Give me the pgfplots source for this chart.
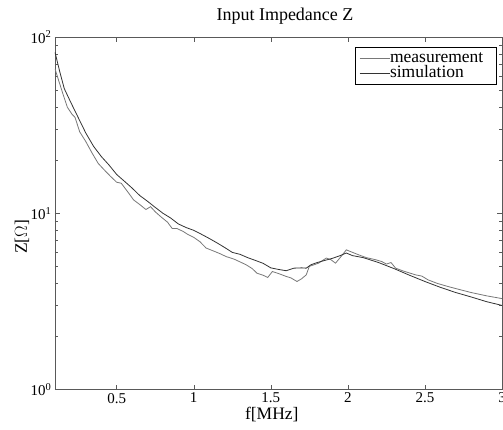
\documentclass[border=0pt]{standalone}
\usepackage{fontspec}
\setmainfont{Liberation Serif}
\usepackage{pgfplots}
\pgfplotsset{compat=1.18}
\definecolor{meas}{gray}{0.47}
\definecolor{simu}{gray}{0.2}
\begin{document}
\begin{tikzpicture}
\useasboundingbox (-55pt,-39.5pt) rectangle (448pt,389.5pt);
\begin{axis}[
  at={(0pt,0pt)}, anchor=south west,
  scale only axis, width=447pt, height=352.5pt,
  ymode=log, xmin=0.1, xmax=3, ymin=1, ymax=100,
  xtick={0.5,1,1.5,2,2.5,3},
  xticklabels={0.5,1,1.5,2,2.5,3},
  ytick={1,10,100},
  yticklabels={10\textsuperscript{0},10\textsuperscript{1},10\textsuperscript{2}},
  tick label style={font=\fontsize{15}{16}\selectfont, black},
  axis line style={black!65},
  every tick/.style={black!65},
  major tick length=5pt, minor tick length=3pt,
  title={Input Impedance Z},
  title style={font=\fontsize{18}{20}\selectfont, at={(axis description cs:0.5145,1.031)}, anchor=base},
  xlabel={f[MHz]},
  xlabel style={font=\fontsize{17.5}{19}\selectfont, at={(axis description cs:0.485,-0.072)}, anchor=center},
  ylabel={Z[$\Omega$]},
  ylabel style={font=\fontsize{17.5}{19}\selectfont, at={(axis description cs:-0.074,0.433)}, anchor=center},
  legend cell align=left,
  legend style={at={(axis description cs:0.988,0.971)}, anchor=north east,
    draw=black, line width=0.6pt, font=\fontsize{17.5}{17.5}\selectfont,
    nodes={inner sep=0pt, text height=11.5pt, text depth=3.5pt},
    inner xsep=4pt, inner ysep=3.5pt, row sep=0pt, column sep=0pt},
  legend image code/.code={\draw[#1] (0pt,0pt) -- (30pt,0pt);},
]
\addplot[meas, line width=0.8pt] coordinates {
(0.10,66) (0.12,58) (0.15,48) (0.18,40) (0.21,36.5) (0.23,35) (0.26,29)
(0.30,25.5) (0.34,22) (0.38,19.2) (0.42,17.6) (0.46,16.2) (0.50,15.0)
(0.53,14.8) (0.57,13.3) (0.61,11.9) (0.65,11.2) (0.69,10.5) (0.72,10.9)
(0.75,10.2) (0.79,9.5) (0.83,8.9) (0.86,8.2) (0.89,8.2) (0.93,7.9)
(0.96,7.6) (1.00,7.3) (1.04,6.9) (1.08,6.35) (1.13,6.1) (1.17,5.9)
(1.21,5.68) (1.26,5.5) (1.30,5.3) (1.34,5.1) (1.38,4.85) (1.41,4.57)
(1.45,4.45) (1.48,4.32) (1.51,4.67) (1.55,4.55) (1.60,4.38) (1.63,4.3)
(1.67,4.10) (1.70,4.25) (1.73,4.47) (1.75,5.0) (1.78,5.1) (1.81,5.21)
(1.86,5.57) (1.89,5.45) (1.92,5.21) (1.95,5.6) (1.99,6.2) (2.03,6.0)
(2.07,5.81) (2.12,5.6) (2.18,5.45) (2.22,5.32) (2.25,5.15) (2.28,5.25)
(2.31,4.88) (2.36,4.7) (2.44,4.47) (2.48,4.4) (2.52,4.19) (2.58,4.0)
(2.65,3.84) (2.72,3.7) (2.80,3.55) (2.90,3.4) (3.00,3.28)
};
\addlegendentry{measurement\hspace*{9pt}}
\addplot[simu, line width=0.8pt] coordinates {
(0.10,82) (0.13,64) (0.16,51) (0.20,43) (0.25,35) (0.30,28.5) (0.35,24)
(0.40,21) (0.45,18.8) (0.50,16.6) (0.55,15.2) (0.60,13.9) (0.65,12.6)
(0.70,11.7) (0.75,10.8) (0.80,10.0) (0.85,9.4) (0.90,8.7) (0.95,8.3)
(1.00,8.0) (1.05,7.6) (1.10,7.2) (1.15,6.8) (1.20,6.4) (1.25,6.0)
(1.30,5.85) (1.35,5.6) (1.40,5.4) (1.45,5.2) (1.50,4.9) (1.55,4.8)
(1.60,4.72) (1.65,4.88) (1.70,4.9) (1.73,4.88) (1.76,5.1) (1.80,5.25)
(1.85,5.4) (1.90,5.55) (1.95,5.75) (1.99,5.95) (2.03,5.75) (2.10,5.6)
(2.20,5.25) (2.30,4.85) (2.40,4.45) (2.50,4.1) (2.60,3.8) (2.70,3.55)
(2.80,3.35) (2.90,3.15) (3.00,3.0)
};
\addlegendentry{simulation}
\end{axis}
\end{tikzpicture}
\end{document}
